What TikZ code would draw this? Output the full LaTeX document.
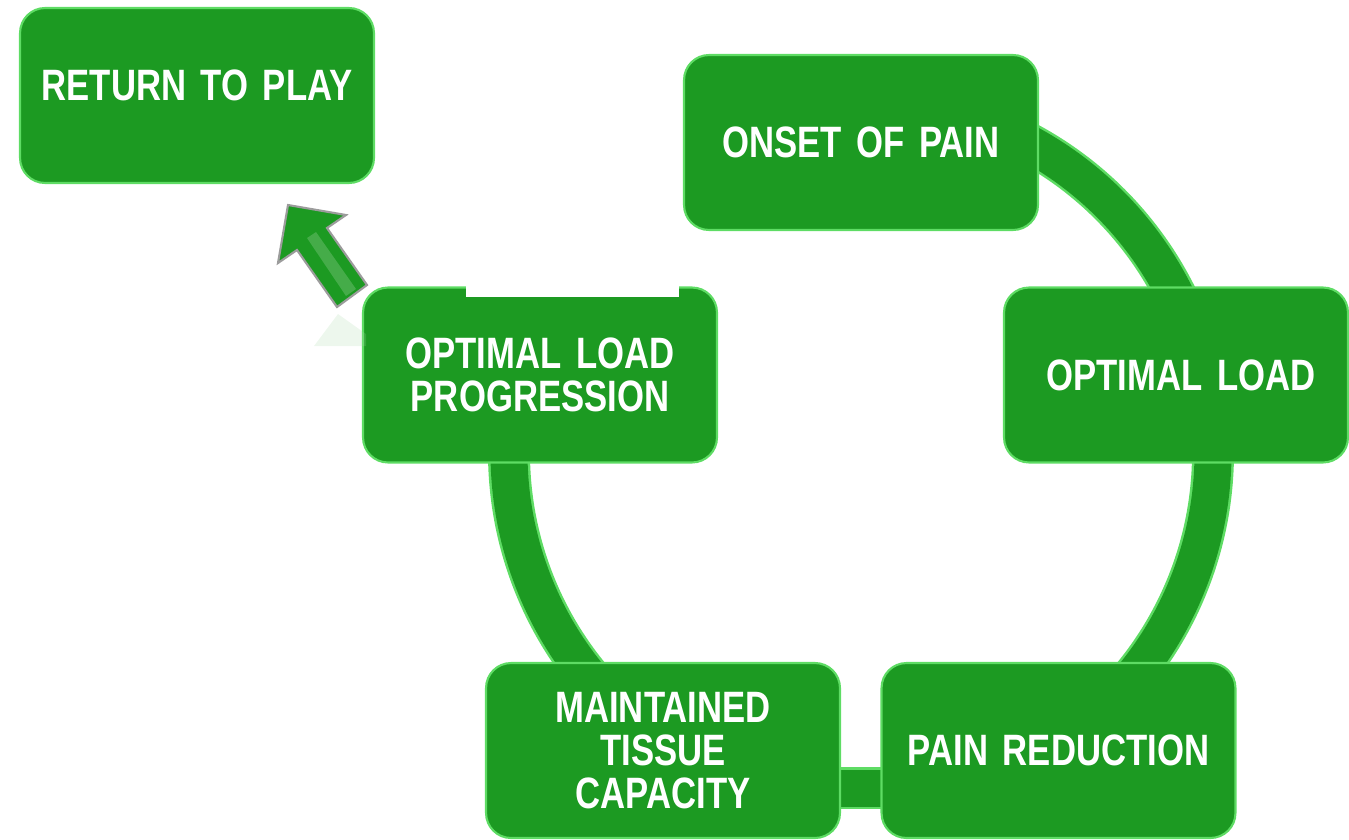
\documentclass[tikz,border=0pt]{standalone}
\usepackage{fontspec}
\usepackage{tikz}
\usetikzlibrary{backgrounds}
\newfontfamily\cyclefont{Liberation Sans}[FakeStretch=0.79]
\newcommand\cyclestyle{\cyclefont\bfseries\fontsize{25}{24.5}\selectfont\fontdimen2\font=0.17em\relax}
\definecolor{leaf}{HTML}{1C9A22}
\definecolor{leafedge}{HTML}{5EDC64}
\definecolor{bevel}{HTML}{9C9C9C}
\tikzset{
  stagebox/.style={
    rectangle,
    rounded corners=0.5cm,
    fill=leaf,
    draw=leafedge, line width=1.2pt,
    minimum width=7.08cm,
    minimum height=3.5cm,
    text width=6.6cm,
    align=center,
    text=white,
    font=\cyclestyle},
  ringedge/.style={draw=leafedge, line width=0.84cm},
  ring/.style={draw=leaf, line width=0.74cm},
  uparrow/.style={fill=leaf, draw=bevel, line width=1.2pt, line join=miter},
}

\begin{document}
\begin{tikzpicture}[x=0.02cm, y=-0.02cm]
     \useasboundingbox (0,0) rectangle (1349,839);
     \node[stagebox, text height=0.64cm, text depth=0.45cm] (ReturnToPlay) at (197,95.5) {RETURN TO PLAY};
     \node[stagebox] (OnsetOfPain)    at (861,142.5) {ONSET OF PAIN};
     \node[stagebox, minimum width=6.88cm] (OptimalLoad) at (1176,375) {\hspace*{0.2cm}OPTIMAL LOAD};
     \node[stagebox] (PainReduction)  at (1058.5,750.5) {PAIN REDUCTION};
     \node[stagebox] (TissueCapacity) at (663,750.5) {MAINTAINED\\TISSUE\\CAPACITY};
     \node[stagebox] (LoadProgression) at (540,375) {OPTIMAL LOAD\\PROGRESSION};
     \fill[white] (466,285.5) rectangle (679,297);
     \coordinate (hub) at (861,453);
     \begin{scope}[on background layer]
       \foreach \s in {ringedge, ring} {
         \draw[\s] (hub) ++(-62:352) arc[start angle=-62, end angle=45, radius=352];
         \draw[\s] (hub) ++(135:352) arc[start angle=135, end angle=205, radius=352];
         \draw[\s, line cap=butt] ([yshift=-0.75cm]TissueCapacity.center) -- ([yshift=-0.75cm]PainReduction.center);
       }
     \end{scope}
     % arrow towards return to play
     \fill[leaf!40, opacity=0.2] (314,346) -- (338,314) -- (366,334) -- (366,346) -- cycle;
     \filldraw[uparrow] (337,307) -- (367,285) -- (327,228) -- (346,215) -- (288,205) -- (278,263) -- (297,250) -- cycle;
     \fill[leaf!60!white, opacity=0.45] (346,296) -- (356,289) -- (316,232) -- (307,238) -- cycle;
\end{tikzpicture}
\end{document}
